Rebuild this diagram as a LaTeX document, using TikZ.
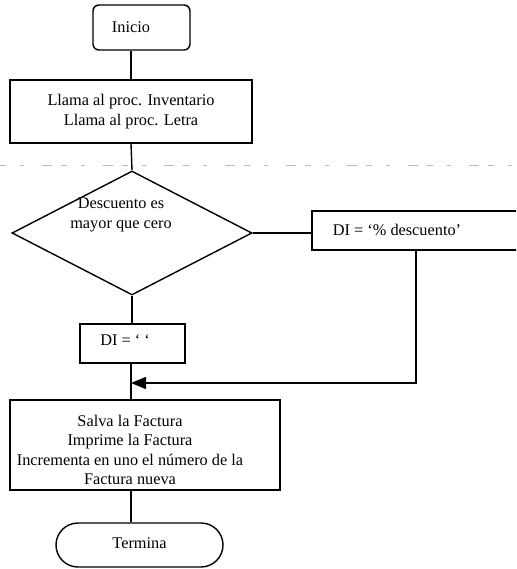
\documentclass[tikz,border=0pt]{standalone}
\usepackage{fontspec}
\setmainfont{Liberation Serif}
\usetikzlibrary{shapes.geometric,shapes.misc,arrows.meta}
\begin{document}
\begin{tikzpicture}[x=1pt,y=-1pt,
  every node/.style={font=\fontsize{16.3}{19.5}\selectfont, inner sep=0pt, align=center},
  boxshape/.style={draw, rectangle, line width=1.4pt},
  flow/.style={line width=1.4pt},
  faint/.style={gray!55, line width=0.7pt, dash pattern=on 6pt off 14pt on 4pt off 18pt on 10pt off 9pt},
]
\clip (0,0) rectangle (516,569);
% vertical line carrying the main sequence
\coordinate (spine) at (131,0);

% start terminal
\node[boxshape, rounded corners=6pt, minimum width=97pt, minimum height=45pt] (start) at (141.5,27.5) {};
\node (starttext) at (131,27) {Inicio};

% procedure calls
\node[boxshape, minimum width=242pt, minimum height=63pt] (proc) at (131,111.5)
  {Llama al proc. Inventario\\Llama al proc. Letra};

% faint dashed rule across the page
\coordinate (ruleL) at (0,165);
\coordinate (ruleR) at (516,165);
\draw[faint] (ruleL) -- (ruleR);

% decision
\node[draw, diamond, line width=1.4pt, minimum width=240pt, minimum height=124pt] (dec) at (132,233) {};
\node (dectext) at (121,215) {Descuento es\\mayor que cero};

% discount assignment (yes branch)
\node[boxshape, minimum width=220pt, minimum height=39pt] (di1) at (422,230.5) {};
\node (di1text) at (397,230) {DI = ‘\% descuento’};

% blank assignment (no branch)
\node[boxshape, minimum width=105pt, minimum height=39pt] (di2) at (132.5,343.5) {};
\node (di2text) at (125,340) {DI = ‘ ‘};

% invoice handling
\node[boxshape, minimum width=270pt, minimum height=90pt] (salva) at (145,445) {};
\node (salvatext) at (130,450)
  {Salva la Factura\\Imprime la Factura\\Incrementa en uno el número de la\\Factura nueva};

% end terminal
\node[draw, rounded rectangle, line width=1.4pt, minimum width=167pt, minimum height=44pt] (fin) at (139.5,545) {};
\node (fintext) at (139.5,543) {Termina};

% connectors
\coordinate (turn) at (416,383);
\draw[flow] (start.south -| spine) -- (proc.north -| spine);
\draw[flow] (proc.south -| spine) -- (dec.north);
\draw[flow] (dec.east) -- (dec.east -| di1.west);
\draw[flow] (dec.south) -- (di2.north -| dec.south);
\draw[flow] (di2.south -| spine) -- (salva.north -| spine);
\draw[flow, -{Triangle[length=15pt,width=12pt]}] (di1.south -| turn) -- (turn) -- (turn -| spine);
\draw[flow] (salva.south -| spine) -- (fin.north -| spine);
\end{tikzpicture}
\end{document}
